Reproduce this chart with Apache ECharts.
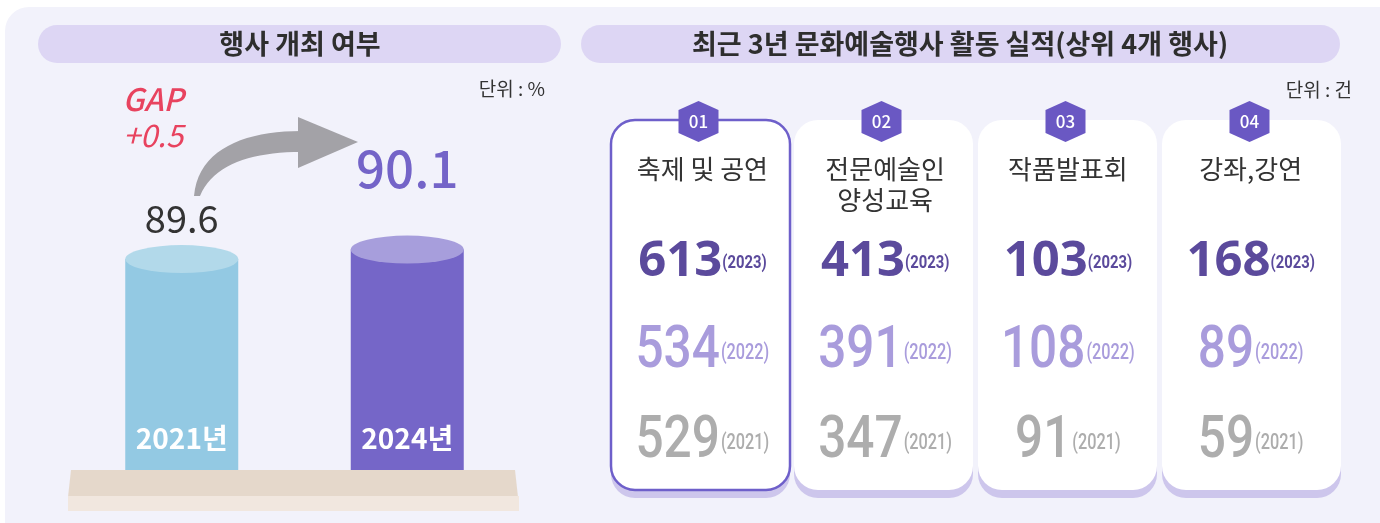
<!DOCTYPE html>
<html>
<head>
<meta charset="utf-8">
<script src="https://cdn.jsdelivr.net/npm/echarts@6/dist/echarts.min.js"></script>
<style>
  html, body { margin: 0; padding: 0; background: #fff; }
  #main { width: 1380px; height: 523px; }
</style>
</head>
<body>
<div id="main"></div>
<script>
// 왼쪽: 행사 개최 여부 (%)
var yearsLeft = ['2021년', '2024년'];
var rateLeft = [89.6, 90.1];
var gapLabel = 'GAP';
var gapValue = '+0.5';

// 오른쪽: 최근 3년 활동 실적 (건)
var events = ['축제 및 공연', '전문예술인\n양성교육', '작품발표회', '강좌,강연'];
var badges = ['01', '02', '03', '04'];
var rowYears = ['2021', '2022', '2023'];
var count2023 = [613, 413, 103, 168];
var count2022 = [534, 391, 108, 89];
var count2021 = [529, 347, 91, 59];

var KR = "'Noto Sans CJK KR', 'Noto Sans', sans-serif";

(function () {
  var myChart = echarts.init(document.getElementById('main'));

  // 글자 폭 재기
  var mctx = document.createElement('canvas').getContext('2d');
  function textW(font, text) {
    mctx.font = font;
    return mctx.measureText(text).width;
  }

  // 화살표 몸통 (베지어 곡선을 점으로 샘플링)
  function bez(p0, p1, p2, p3, t) {
    var u = 1 - t;
    return [
      u * u * u * p0[0] + 3 * u * u * t * p1[0] + 3 * u * t * t * p2[0] + t * t * t * p3[0],
      u * u * u * p0[1] + 3 * u * u * t * p1[1] + 3 * u * t * t * p2[1] + t * t * t * p3[1]
    ];
  }
  var shaft = [];
  for (var t = 0; t <= 1.0001; t += 0.05) shaft.push(bez([301, 131], [245, 131], [198, 149], [194, 196], t));
  for (var s = 1; s >= -0.0001; s -= 0.05) shaft.push(bez([301, 152], [252, 152], [213, 164], [200, 196], s));

  var bodyColors = ['#93c9e3', '#7566c8'];
  var topColors = ['#b2d9ea', '#a79edc'];

  var barData = rateLeft.map(function (v, i) {
    return { value: v, itemStyle: { color: bodyColors[i] } };
  });
  var topData = rateLeft.map(function (v, i) {
    return {
      value: v,
      itemStyle: { color: topColors[i] },
      label: i === 0
        ? { fontSize: 38, color: '#333', distance: 8 }
        : { fontSize: 51, color: '#7464c8', distance: 41, fontWeight: 500 }
    };
  });

  // 카드 + 배지
  var cardX = [611, 794, 978, 1162];
  var cardW = 179;
  var graphics = [
    { type: 'rect', z: -10, shape: { x: 5, y: 7, width: 1400, height: 540, r: 24 }, style: { fill: '#f2f2fb' } },
    { type: 'rect', shape: { x: 38, y: 25, width: 523, height: 38, r: 19 }, style: { fill: '#ddd6f4' } },
    { type: 'text', x: 300, y: 44, style: { text: '행사 개최 여부', font: 'bold 27px ' + KR, fill: '#2e2e2e', align: 'center', verticalAlign: 'middle' } },
    { type: 'rect', shape: { x: 581, y: 25, width: 759, height: 38, r: 19 }, style: { fill: '#ddd6f4' } },
    { type: 'text', x: 960, y: 44, style: { text: '최근 3년 문화예술행사 활동 실적(상위 4개 행사)', font: 'bold 27px ' + KR, fill: '#2e2e2e', align: 'center', verticalAlign: 'middle' } },
    { type: 'text', x: 545, y: 89, style: { text: '단위 : %', font: '19px ' + KR, fill: '#333', align: 'right', verticalAlign: 'middle' } },
    { type: 'text', x: 1352, y: 90, style: { text: '단위 : 건', font: '19px ' + KR, fill: '#333', align: 'right', verticalAlign: 'middle' } },
    { type: 'text', x: 153, y: 99, style: { text: gapLabel, font: 'italic 500 31px ' + KR, fill: '#e8435f', align: 'center', verticalAlign: 'middle' } },
    { type: 'text', x: 153, y: 135, style: { text: gapValue, font: 'italic 31px ' + KR, fill: '#e8435f', align: 'center', verticalAlign: 'middle' } },
    { type: 'polygon', shape: { points: shaft }, style: { fill: '#a3a2a7' } },
    { type: 'polygon', shape: { points: [[298, 117], [358, 142], [298, 168]] }, style: { fill: '#a3a2a7' } },
    { type: 'polygon', shape: { points: [[71, 470], [515, 470], [518, 497], [68, 497]] }, style: { fill: '#e5d8cb' } },
    { type: 'rect', shape: { x: 68, y: 496, width: 451, height: 15 }, style: { fill: '#f1e7df' } }
  ];
  cardX.forEach(function (x, i) {
    graphics.push({ type: 'rect', shape: { x: x, y: 128, width: cardW, height: 370, r: 24 }, style: { fill: '#cdc6ec' } });
    graphics.push({
      type: 'rect', shape: { x: x, y: 120, width: cardW, height: 370, r: 24 },
      style: i === 0 ? { fill: '#fff', stroke: '#6e5fca', lineWidth: 2.5 } : { fill: '#fff' }
    });
    var cx = x + cardW / 2 - 2;
    graphics.push({
      type: 'polygon',
      shape: { points: [[cx, 101], [cx + 20, 110], [cx + 20, 133], [cx, 142], [cx - 20, 133], [cx - 20, 110]] },
      style: { fill: '#6a58c3' }
    });
    graphics.push({ type: 'text', x: cx, y: 122, style: { text: badges[i], font: '500 17px ' + KR, fill: '#fff', align: 'center', verticalAlign: 'middle' } });
  });

  // 숫자 + (연도), 가로로 좁힌 글꼴
  var rowStyles = {
    2: { color: '#5b4a9c', numFont: "bold 49px 'Noto Sans'", numScale: 1, yearFont: 'bold 19px Roboto', yearScale: 0.78, gap: 0, dy: 1 },
    1: { color: '#a99cdc', numFont: '500 59px Roboto', numScale: 0.84, yearFont: '500 22px Roboto', yearScale: 0.74, gap: 1, dy: 1 },
    0: { color: '#adadad', numFont: '500 59px Roboto', numScale: 0.84, yearFont: '500 22px Roboto', yearScale: 0.74, gap: 1, dy: 1 }
  };

  function rowSeries(values, yi) {
    var st = rowStyles[yi];
    return {
      type: 'custom',
      xAxisIndex: 1,
      yAxisIndex: 1,
      z: 5,
      data: values.map(function (v, i) { return [i, yi, v]; }),
      renderItem: function (params, api) {
        var pt = api.coord([api.value(0), api.value(1)]);
        var num = String(api.value(2));
        var yr = '(' + rowYears[yi] + ')';
        var nw = textW(st.numFont, num) * st.numScale;
        var yw = textW(st.yearFont, yr) * st.yearScale;
        var x0 = pt[0] - (nw + st.gap + yw) / 2;
        return {
          type: 'group',
          children: [
            { type: 'text', x: x0, y: pt[1], scaleX: st.numScale,
              style: { text: num, font: st.numFont, fill: st.color, align: 'left', verticalAlign: 'middle' } },
            { type: 'text', x: x0 + nw + st.gap, y: pt[1] + st.dy, scaleX: st.yearScale,
              style: { text: yr, font: st.yearFont, fill: st.color, align: 'left', verticalAlign: 'middle' } }
          ]
        };
      }
    };
  }

  var option = {
    animation: false,
    graphic: graphics,
    grid: [
      { left: 69, width: 451, top: 90, bottom: 53 },
      { left: 611, width: 731, top: 217, height: 270 }
    ],
    xAxis: [
      {
        type: 'category', gridIndex: 0, data: yearsLeft,
        axisLine: { show: false }, axisTick: { show: false }, axisLabel: { show: false }
      },
      {
        type: 'category', gridIndex: 1, data: events, position: 'top', z: 10,
        axisLine: { show: false }, axisTick: { show: false },
        axisLabel: {
          interval: 0, margin: 63, verticalAlign: 'top', lineHeight: 31,
          fontSize: 26, fontFamily: KR, color: '#333'
        }
      }
    ],
    yAxis: [
      { type: 'value', gridIndex: 0, min: 78.5, max: 98.5, show: false, splitLine: { show: false } },
      { type: 'category', gridIndex: 1, data: rowYears, show: false }
    ],
    series: [
      {
        type: 'bar', xAxisIndex: 0, yAxisIndex: 0, barWidth: 113, z: 3,
        data: barData,
        label: {
          show: true, position: 'insideBottom', distance: 18,
          formatter: '{b}', color: '#fff', fontSize: 28, fontWeight: 'bold', fontFamily: KR
        }
      },
      {
        type: 'pictorialBar', xAxisIndex: 0, yAxisIndex: 0, z: 4,
        symbol: 'circle', symbolSize: [113, 28], symbolPosition: 'end', symbolOffset: [0, '-50%'],
        data: topData,
        label: { show: true, position: 'top', fontFamily: KR }
      },
      rowSeries(count2023, 2),
      rowSeries(count2022, 1),
      rowSeries(count2021, 0)
    ]
  };

  myChart.setOption(option);
  window.addEventListener('resize', function () {
    myChart.resize();
  });
})();
</script>
</body>
</html>
